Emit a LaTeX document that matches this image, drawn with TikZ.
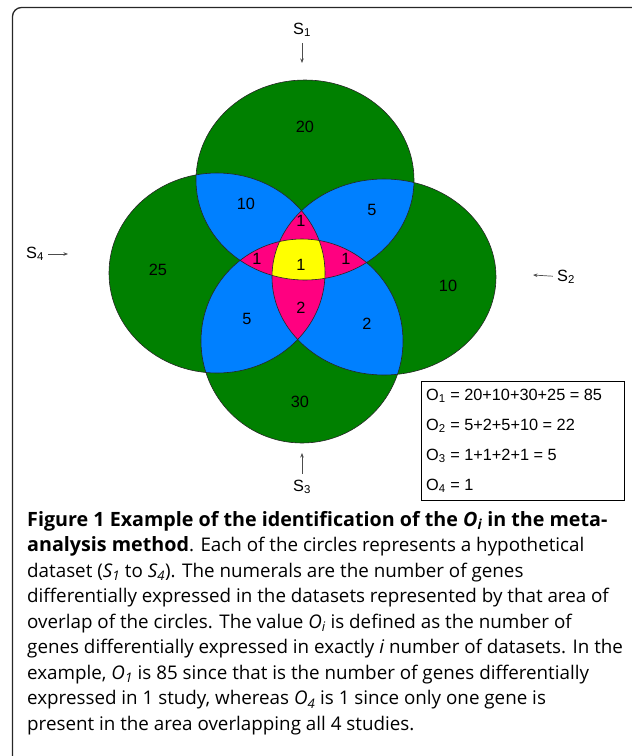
\documentclass[tikz,border=0pt]{standalone}
\usepackage{fontspec}
\setmainfont{Liberation Sans}
\newfontfamily\capfont{Open Sans}
\usetikzlibrary{arrows.meta}

\definecolor{onegreen}{RGB}{0,128,0}
\definecolor{twoblue}{RGB}{0,128,255}
\definecolor{threepink}{RGB}{255,0,128}
\definecolor{fouryellow}{RGB}{255,255,0}

% the four data sets
\def\setS{(305,180) ellipse [x radius=109, y radius=100]}
\def\setW{(217,273) ellipse [x radius=108, y radius=100]}
\def\setE{(384,277) ellipse [x radius=112, y radius=98]}
\def\setB{(302,341) ellipse [x radius=101, y radius=102]}

% bold caption title
\newcommand{\captitle}[1]{{\fontsize{19.7}{25.5}\selectfont\bfseries #1}}

\begin{document}
\begin{tikzpicture}[x=1pt, y=-1pt,
  num/.style={font=\fontsize{16.3}{18}\selectfont, inner sep=0pt},
  setlabel/.style={font=\fontsize{16.3}{18}\selectfont, inner sep=0pt},
  arr/.style={-{Stealth[length=4.5pt, width=3.5pt]}, line width=0.7pt, black!70},
  outline/.style={draw=black!85, line width=0.6pt}]
  \useasboundingbox (0,0) rectangle (632,756);

  % Frame
  \draw[line width=1.3pt, black!85, rounded corners=9pt] (12.5,7.5) rectangle (650,775);

  % One set only
  \foreach \s in {\setS,\setW,\setE,\setB}
    \fill[onegreen] \s;

  % Two sets
  \foreach \p/\q in {\setS/\setW, \setS/\setE, \setS/\setB,
                     \setW/\setE, \setW/\setB, \setE/\setB} {
    \begin{scope}
      \clip \p;
      \fill[twoblue] \q;
    \end{scope}
  }

  % Three sets
  \foreach \p/\q/\r in {\setS/\setW/\setE, \setS/\setW/\setB,
                        \setS/\setE/\setB, \setW/\setE/\setB} {
    \begin{scope}
      \clip \p;
      \clip \q;
      \fill[threepink] \r;
    \end{scope}
  }

  % All four
  \begin{scope}
    \clip \setS;
    \clip \setW;
    \clip \setE;
    \fill[fouryellow] \setB;
  \end{scope}

  % Outlines
  \foreach \s in {\setS,\setW,\setE,\setB}
    \path[outline] \s;

  % Counts
  \foreach \x/\y/\v/\n in {
    305/127/20/s, 246/204/10/sw, 372/210/5/se, 301/221/1/swe,
    257/259/1/swb, 301/265/1/all, 346/259/1/seb, 158/270/25/w,
    448/286/10/e, 247/319/5/wb, 301/308/2/web, 367/324/2/eb,
    300/402/30/b} {
    \node[num] (n\n) at (\x,\y) {\v};
  }

  % Set labels and arrows
  \node[setlabel] (s1) at (302,30) {S\textsubscript{1}};
  \node[setlabel] (s2) at (566,277) {S\textsubscript{2}};
  \node[setlabel] (s3) at (302,487) {S\textsubscript{3}};
  \node[setlabel] (s4) at (35,254) {S\textsubscript{4}};
  \coordinate (s1tip) at (302,63);
  \coordinate (s2tip) at (533,275);
  \coordinate (s3tip) at (302,453);
  \coordinate (s4tip) at (68,254);
  \draw[arr, shorten <=6pt] (s1) -- (s1tip);
  \draw[arr, shorten <=4pt] (s2) -- (s2tip);
  \draw[arr, shorten <=6pt] (s3) -- (s3tip);
  \draw[arr, shorten <=4pt] (s4) -- (s4tip);

  % Sums
  \node[draw, line width=1pt, minimum width=203pt, minimum height=119pt,
        anchor=north west, inner sep=0pt] (sums) at (421,381) {};
  \foreach \t [count=\k] in {
    O\textsubscript{1} = 20+10+30+25 = 85,
    O\textsubscript{2} = 5+2+5+10 = 22,
    O\textsubscript{3} = 1+1+2+1 = 5,
    O\textsubscript{4} = 1} {
    \node[num, anchor=west] (o\k) at (426,366+30*\k) {\t};
  }

  % Caption
  \node[anchor=north west, inner sep=0pt, align=left,
        font=\capfont\fontsize{18.8}{25.5}\selectfont] (caption) at (27,511) {
    \captitle{Figure 1 Example of the identification of the \textit{O\textsubscript{i}} in the meta-}\\
    \captitle{analysis method}. Each of the circles represents a hypothetical\\
    dataset (\textit{S\textsubscript{1}} to \textit{S\textsubscript{4}}). The numerals are the number of genes\\
    differentially expressed in the datasets represented by that area of\\
    overlap of the circles. The value \textit{O\textsubscript{i}} is defined as the number of\\
    genes differentially expressed in exactly \textit{i} number of datasets. In the\\
    example, \textit{O\textsubscript{1}} is 85 since that is the number of genes differentially\\
    expressed in 1 study, whereas \textit{O\textsubscript{4}} is 1 since only one gene is\\
    present in the area overlapping all 4 studies.};
\end{tikzpicture}
\end{document}
